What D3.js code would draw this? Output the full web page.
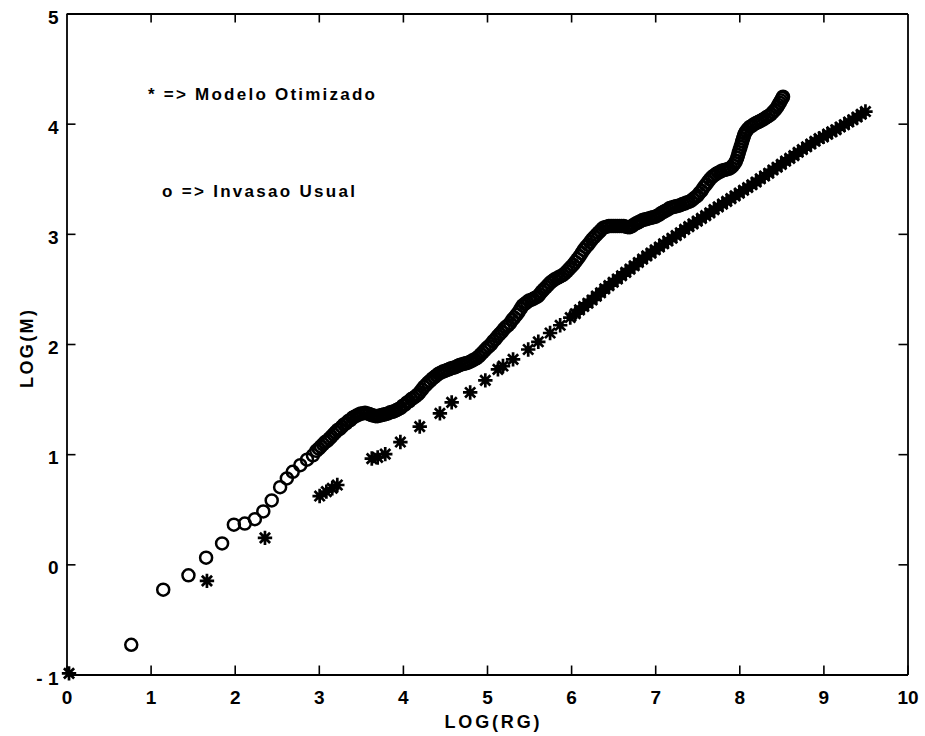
<!DOCTYPE html>
<html>
<head>
<meta charset="utf-8">
<script src="https://cdn.jsdelivr.net/npm/d3@7"></script>
<style>
  html, body { margin: 0; padding: 0; background: #fff; }
  svg { display: block; }
</style>
</head>
<body>
<svg id="chart" width="925" height="736"></svg>
<script>
// Axis ticks
const xTickValues = [0, 1, 2, 3, 4, 5, 6, 7, 8, 9, 10];
const yTickValues = [-1, 0, 1, 2, 3, 4, 5];
const yTickLabels = ["- 1", "0", "1", "2", "3", "4", "5"];

// Legend lines
const legendLines = ["* => Modelo Otimizado", "o => Invasao Usual"];

// Series "*" : Modelo Otimizado  [LOG(RG), LOG(M)]
const modeloOtimizado = [
  [0.03,-0.99],[1.67,-0.15],[2.36,0.24],
  [3.01,0.62],[3.09,0.66],[3.16,0.69],[3.22,0.72],
  [3.63,0.96],[3.70,0.97],[3.79,1.00],
  [3.97,1.11],[4.20,1.25],[4.44,1.37],[4.58,1.47],[4.80,1.56],[4.98,1.67],
  [5.13,1.77],[5.19,1.80],[5.31,1.86],[5.49,1.95],[5.61,2.02],[5.75,2.10],[5.87,2.17],[5.99,2.24],
  [6.05,2.275],[6.10,2.31],[6.15,2.34],[6.20,2.37],[6.25,2.40],[6.30,2.435],[6.35,2.465],[6.40,2.50],
  [6.45,2.53],[6.50,2.56],[6.55,2.59],[6.60,2.62],[6.65,2.65],[6.70,2.68],[6.75,2.71],[6.80,2.74],
  [6.85,2.77],[6.90,2.80],[6.95,2.825],[7.00,2.855],[7.05,2.88],[7.10,2.91],[7.15,2.935],[7.20,2.96],
  [7.25,2.985],[7.30,3.01],[7.35,3.04],[7.40,3.065],[7.45,3.09],[7.50,3.115],[7.55,3.14],[7.60,3.165],
  [7.65,3.19],[7.70,3.22],[7.75,3.245],[7.80,3.27],[7.85,3.295],[7.90,3.32],[7.95,3.345],[8.00,3.37],
  [8.05,3.395],[8.10,3.42],[8.15,3.445],[8.20,3.47],[8.25,3.50],[8.30,3.525],[8.35,3.55],[8.40,3.58],
  [8.45,3.605],[8.50,3.63],[8.55,3.66],[8.60,3.685],[8.65,3.71],[8.70,3.74],[8.75,3.765],[8.80,3.79],
  [8.85,3.815],[8.90,3.84],[8.95,3.865],[9.00,3.88],[9.05,3.905],[9.10,3.925],[9.15,3.945],[9.20,3.97],
  [9.25,3.99],[9.30,4.015],[9.35,4.035],[9.40,4.06],[9.45,4.085],[9.50,4.11]
];

// Series "o" : Invasao Usual  [LOG(RG), LOG(M)]
const invasaoUsual = [
  [0.77,-0.73],[1.15,-0.23],[1.45,-0.10],[1.66,0.06],[1.85,0.19],[1.99,0.36],[2.12,0.37],
  [2.24,0.41],[2.34,0.48],[2.44,0.58],[2.54,0.70],[2.62,0.78],[2.69,0.84],[2.78,0.90],
  [2.86,0.95],[2.93,0.99],[2.97,1.03],
  [3.000,1.05],[3.025,1.07],[3.050,1.09],[3.075,1.11],[3.100,1.12],[3.125,1.14],[3.150,1.16],[3.175,1.18],
  [3.200,1.20],[3.225,1.22],[3.250,1.23],[3.275,1.25],[3.300,1.27],[3.325,1.28],[3.350,1.30],[3.375,1.31],
  [3.400,1.33],[3.425,1.34],[3.450,1.35],[3.475,1.36],[3.500,1.37],[3.525,1.37],[3.550,1.375],[3.575,1.37],
  [3.600,1.365],[3.625,1.355],[3.650,1.35],[3.675,1.345],[3.700,1.345],[3.725,1.35],[3.750,1.355],[3.775,1.36],
  [3.800,1.365],[3.825,1.37],[3.850,1.38],[3.875,1.385],[3.900,1.39],[3.925,1.40],[3.950,1.41],[3.975,1.42],
  [4.000,1.44],[4.025,1.45],[4.050,1.47],[4.075,1.48],[4.100,1.50],[4.125,1.51],[4.150,1.525],[4.175,1.54],
  [4.200,1.56],[4.225,1.585],[4.250,1.61],[4.275,1.63],[4.300,1.65],[4.325,1.665],[4.350,1.685],[4.375,1.70],
  [4.400,1.715],[4.425,1.73],[4.450,1.74],[4.475,1.75],[4.500,1.755],[4.525,1.765],[4.550,1.77],[4.575,1.78],
  [4.600,1.785],[4.625,1.79],[4.650,1.80],[4.675,1.81],[4.700,1.815],[4.725,1.82],[4.750,1.825],[4.775,1.83],
  [4.800,1.84],[4.825,1.85],[4.850,1.86],[4.875,1.87],[4.900,1.885],[4.925,1.905],[4.950,1.925],[4.975,1.945],
  [5.000,1.965],[5.025,1.98],[5.050,2.00],[5.075,2.025],[5.100,2.045],[5.125,2.07],[5.150,2.09],[5.175,2.11],
  [5.200,2.135],[5.225,2.155],[5.250,2.17],[5.275,2.19],[5.300,2.22],[5.325,2.24],[5.350,2.265],[5.375,2.29],
  [5.400,2.32],[5.425,2.35],[5.450,2.365],[5.475,2.38],[5.500,2.395],[5.525,2.40],[5.550,2.41],[5.575,2.42],
  [5.600,2.43],[5.625,2.45],[5.650,2.475],[5.675,2.495],[5.700,2.515],[5.725,2.535],[5.750,2.555],[5.775,2.57],
  [5.800,2.585],[5.825,2.595],[5.850,2.605],[5.875,2.615],[5.900,2.625],[5.925,2.64],[5.950,2.66],[5.975,2.68],
  [6.000,2.70],[6.025,2.72],[6.050,2.745],[6.075,2.77],[6.100,2.795],[6.125,2.825],[6.150,2.855],[6.175,2.88],
  [6.200,2.90],[6.225,2.925],[6.250,2.95],[6.275,2.97],[6.300,2.99],[6.325,3.01],[6.350,3.03],[6.375,3.05],
  [6.400,3.06],[6.425,3.065],[6.450,3.07],[6.475,3.07],[6.500,3.07],[6.525,3.07],[6.550,3.07],[6.575,3.07],
  [6.600,3.07],[6.625,3.07],[6.650,3.065],[6.675,3.06],[6.700,3.06],[6.725,3.07],[6.750,3.085],[6.775,3.095],
  [6.800,3.105],[6.825,3.115],[6.850,3.125],[6.875,3.13],[6.900,3.135],[6.925,3.14],[6.950,3.145],[6.975,3.15],
  [7.000,3.155],[7.025,3.165],[7.050,3.175],[7.075,3.19],[7.100,3.20],[7.125,3.21],[7.150,3.22],[7.175,3.235],
  [7.200,3.24],[7.225,3.245],[7.250,3.25],[7.275,3.255],[7.300,3.26],[7.325,3.27],[7.350,3.275],[7.375,3.285],
  [7.400,3.29],[7.425,3.30],[7.450,3.315],[7.475,3.33],[7.500,3.345],[7.525,3.37],[7.550,3.39],[7.575,3.42],
  [7.600,3.445],[7.625,3.47],[7.650,3.495],[7.675,3.515],[7.700,3.53],[7.725,3.545],[7.750,3.555],[7.775,3.565],
  [7.800,3.575],[7.825,3.58],[7.850,3.585],[7.875,3.59],[7.900,3.60],[7.925,3.62],[7.945,3.64],[7.960,3.66],
  [7.975,3.69],[7.985,3.715],[7.995,3.74],[8.005,3.765],[8.015,3.79],[8.025,3.815],[8.035,3.84],[8.045,3.865],
  [8.055,3.89],[8.065,3.91],[8.080,3.93],[8.100,3.95],[8.125,3.97],[8.150,3.98],[8.175,3.995],[8.200,4.005],
  [8.225,4.015],[8.250,4.025],[8.275,4.035],[8.300,4.045],[8.325,4.06],[8.350,4.07],[8.375,4.085],[8.400,4.105],
  [8.425,4.125],[8.450,4.15],[8.465,4.17],[8.480,4.19],[8.495,4.21],[8.510,4.23],[8.520,4.245]
];

// ---- layout ----
const plot = { left: 66.5, right: 907.5, top: 13.5, bottom: 674.5 };
const FONT = "'Liberation Sans', Arial, Helvetica, sans-serif";

const svg = d3.select("#chart");

const x = d3.scaleLinear().domain([0, 10]).range([plot.left, plot.right]);
const y = d3.scaleLinear().domain([-1, 5]).range([plot.bottom, plot.top]);

const tickLen = 9;

function styleAxis(g) {
  g.selectAll(".domain").attr("stroke", "#000").attr("stroke-width", 1.8);
  g.selectAll(".tick line").attr("stroke", "#000").attr("stroke-width", 1.6);
  g.selectAll(".tick text")
    .attr("fill", "#000")
    .style("font-family", FONT)
    .style("font-size", "19px")
    .style("font-weight", "bold");
}

// bottom axis with labels, ticks pointing inward
svg.append("g")
  .attr("transform", `translate(0,${plot.bottom})`)
  .call(d3.axisBottom(x).tickValues(xTickValues).tickSize(-tickLen).tickSizeOuter(0)
    .tickPadding(16).tickFormat(d3.format("d")))
  .call(styleAxis);

// top axis, ticks only
svg.append("g")
  .attr("transform", `translate(0,${plot.top})`)
  .call(d3.axisTop(x).tickValues(xTickValues.slice(1, -1)).tickSize(-tickLen).tickSizeOuter(0).tickFormat(""))
  .call(styleAxis);

// left axis with labels
svg.append("g")
  .attr("transform", `translate(${plot.left},0)`)
  .call(d3.axisLeft(y).tickValues(yTickValues).tickSize(-tickLen).tickSizeOuter(0)
    .tickPadding(8).tickFormat((d, i) => yTickLabels[i]))
  .call(styleAxis)
  .call(g => g.selectAll(".tick text").attr("dy", "0.5em"));

// right axis, ticks only
svg.append("g")
  .attr("transform", `translate(${plot.right},0)`)
  .call(d3.axisRight(y).tickValues(yTickValues.slice(1, -1)).tickSize(-tickLen).tickSizeOuter(0).tickFormat(""))
  .call(styleAxis);

// axis titles
svg.append("text")
  .attr("x", 492).attr("y", 728)
  .attr("text-anchor", "middle")
  .attr("textLength", 95).attr("lengthAdjust", "spacing")
  .style("font-family", FONT).style("font-size", "18px").style("font-weight", "bold")
  .text("LOG(RG)");

svg.append("text")
  .attr("transform", "translate(33,349) rotate(-90)")
  .attr("text-anchor", "middle")
  .attr("textLength", 78).attr("lengthAdjust", "spacing")
  .style("font-family", FONT).style("font-size", "18px").style("font-weight", "bold")
  .text("LOG(M)");

// legend text
const legendPos = [
  { x: 148, y: 100, len: 227 },
  { x: 162, y: 197, len: 193 }
];
svg.append("g").selectAll("text")
  .data(legendLines)
  .join("text")
  .attr("x", (d, i) => legendPos[i].x)
  .attr("y", (d, i) => legendPos[i].y)
  .attr("textLength", (d, i) => legendPos[i].len)
  .attr("lengthAdjust", "spacing")
  .style("font-family", FONT).style("font-size", "17px").style("font-weight", "bold")
  .text(d => d);

// "o" markers
svg.append("g")
  .selectAll("circle")
  .data(invasaoUsual)
  .join("circle")
  .attr("cx", d => x(d[0]))
  .attr("cy", d => y(d[1]))
  .attr("r", 6)
  .attr("fill", "none")
  .attr("stroke", "#000")
  .attr("stroke-width", 2.5);

// "*" markers
const star = "M-7.2,0H7.2M0,-7.2V7.2M-5.1,-5.1L5.1,5.1M-5.1,5.1L5.1,-5.1";
svg.append("g")
  .selectAll("path")
  .data(modeloOtimizado)
  .join("path")
  .attr("d", star)
  .attr("transform", d => `translate(${x(d[0])},${y(d[1])})`)
  .attr("fill", "none")
  .attr("stroke", "#000")
  .attr("stroke-width", 2.7);
</script>
</body>
</html>
